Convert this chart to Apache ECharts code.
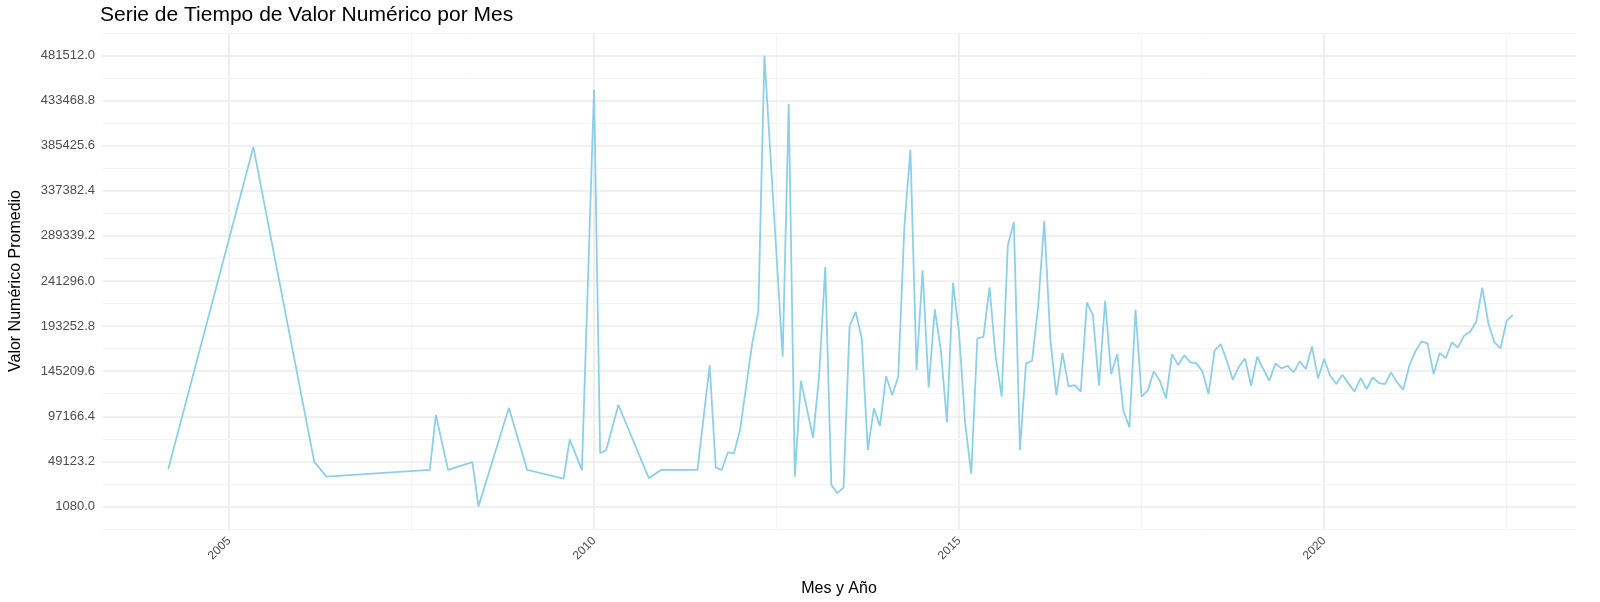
<!DOCTYPE html>
<html>
<head>
<meta charset="utf-8">
<script src="https://cdn.jsdelivr.net/npm/echarts@6/dist/echarts.min.js"></script>
<style>
  html, body { margin: 0; padding: 0; background: #fff; }
  #chart { width: 1600px; height: 602px; }
</style>
</head>
<body>
<div id="chart"></div>
<script>
// meses (AAAA-MM) y valores promedio
var dates = [
    '2004-03','2005-05','2006-03','2006-05','2007-10','2007-11','2008-01','2008-05','2008-06','2008-11',
    '2009-02','2009-08','2009-09','2009-11','2010-01','2010-02','2010-03','2010-05','2010-10','2010-12',
    '2011-06','2011-08','2011-09','2011-10','2011-11','2011-12','2012-01','2012-03','2012-04','2012-05',
    '2012-08','2012-09','2012-10','2012-11','2013-01','2013-02','2013-03','2013-04','2013-05','2013-06',
    '2013-07','2013-08','2013-09','2013-10','2013-11','2013-12'
];
var values = [
    40700, 384000, 48900, 32900, 40000, 98500, 40000, 48200, 1080, 106300,
    40000, 30800, 72600, 40000, 445000, 57800, 61300, 109200, 31200, 40000,
    40000, 151700, 42500, 40000, 58800, 57800, 82600, 174800, 208500, 481512,
    160600, 430100, 32900, 135000, 74500, 141100, 256300, 24100, 15200, 21200,
    193200, 208500, 180100, 61300, 105600, 86900
];
// desde 2014-01 los datos son mensuales sin huecos
var monthlyStart = '2014-01';
var monthlyValues = [
    140000, 119800, 139300, 298900, 381200, 146400, 252800, 127600, 211000, 167700, 90700, 239300,
    185400, 89700, 35800, 180100, 181800, 234400, 161300, 118000, 278700, 304200, 61300, 153500,
    156300, 214800, 305300, 178300, 119800, 164500, 128700, 130400, 123400, 218400, 204900, 129700,
    220200, 142100, 163400, 103100, 85400, 210600, 118000, 124400, 145000, 135000, 116300, 163400,
    151700, 162300, 154600, 153800, 145000, 120900, 167000, 174100, 156300, 136100, 150000, 158800,
    129700, 160600, 147500, 135000, 153500, 148200, 151000, 143900, 155600, 147500, 171600, 137500,
    158100, 140400, 131500, 141400, 132200, 123400, 137900, 126200, 138600, 132600, 131500, 143900,
    133300, 125500, 151000, 166300, 176900, 174800, 142100, 164500, 159200, 175800, 170500, 182900,
    187200, 197800, 234300, 196000, 175800, 169500, 198900, 205300
];
var yearLabels = [2005, 2010, 2015, 2020];
var yearGrid = [2005, 2007.5, 2010, 2012.5, 2015, 2017.5, 2020, 2022.5];
var yTicks = [1080.0, 49123.2, 97166.4, 145209.6, 193252.8, 241296.0, 289339.2, 337382.4, 385425.6, 433468.8, 481512.0];
var yMinorGrid = [-22941.6, 25101.6, 73144.8, 121188.0, 169231.2, 217274.4, 265317.6, 313360.8, 361404.0, 409447.2, 457490.4, 505533.6];

function toYear(s) {
    var p = s.split('-');
    return +p[0] + (+p[1] - 1) / 12;
}

var seriesData = [];
for (var i = 0; i < dates.length; i++) {
    seriesData.push([toYear(dates[i]), values[i]]);
}
var y0 = +monthlyStart.split('-')[0];
for (var j = 0; j < monthlyValues.length; j++) {
    seriesData.push([y0 + j / 12, monthlyValues[j]]);
}

var gridLines = [];
for (var a = 0; a < yearGrid.length; a++) {
    var major = yearGrid[a] % 5 === 0;
    gridLines.push({ xAxis: yearGrid[a], lineStyle: { type: 'solid', color: major ? '#ebebeb' : '#f4f4f4', width: major ? 1.6 : 1 } });
}
for (var b = 0; b < yTicks.length; b++) {
    gridLines.push({ yAxis: yTicks[b], lineStyle: { type: 'solid', color: '#ebebeb', width: 1.6 } });
}
for (var c = 0; c < yMinorGrid.length; c++) {
    gridLines.push({ yAxis: yMinorGrid[c], lineStyle: { type: 'solid', color: '#f4f4f4', width: 1 } });
}

var myChart = echarts.init(document.getElementById('chart'));
var option = {
    backgroundColor: '#ffffff',
    animation: false,
    title: {
        text: 'Serie de Tiempo de Valor Numérico por Mes',
        left: 95,
        top: 0,
        textStyle: { fontFamily: 'Liberation Sans', fontSize: 21, fontWeight: 'normal', color: '#000' }
    },
    grid: { left: 97, right: 24, top: 33, bottom: 72 },
    xAxis: {
        type: 'value',
        min: 2003.26,
        max: 2023.45,
        name: 'Mes y Año',
        nameLocation: 'middle',
        nameGap: 52,
        nameTextStyle: { fontFamily: 'Liberation Sans', fontSize: 16, color: '#000' },
        axisLine: { show: false },
        axisTick: { show: false },
        splitLine: { show: false },
        axisLabel: {
            customValues: yearLabels,
            formatter: function (v) { return String(v); },
            rotate: 45,
            margin: 10,
            fontFamily: 'Liberation Sans',
            fontSize: 12,
            color: '#4d4d4d'
        }
    },
    yAxis: {
        type: 'value',
        min: -22941.6,
        max: 505533.6,
        name: 'Valor Numérico Promedio',
        nameLocation: 'middle',
        nameGap: 78,
        nameTextStyle: { fontFamily: 'Liberation Sans', fontSize: 16, color: '#000' },
        axisLine: { show: false },
        axisTick: { show: false },
        splitLine: { show: false },
        axisLabel: {
            customValues: yTicks,
            formatter: function (v) { return v.toFixed(1); },
            margin: 7,
            fontFamily: 'Liberation Sans',
            fontSize: 13,
            color: '#4d4d4d'
        }
    },
    series: [
        {
            type: 'line',
            data: seriesData,
            showSymbol: false,
            lineStyle: { color: '#8ecfe8', width: 1.8 },
            z: 3,
            markLine: {
                silent: true,
                symbol: 'none',
                label: { show: false },
                z: 1,
                data: gridLines
            }
        }
    ]
};
myChart.setOption(option);
</script>
</body>
</html>
